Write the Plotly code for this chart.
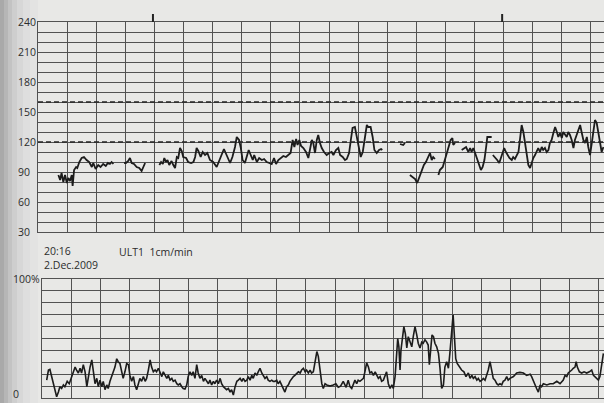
import plotly.graph_objects as go

# ---------------- data ----------------
# Fetal heart rate (bpm) vs time (minutes); None = signal loss
fhr_time = [
    0.70, 0.76, 0.81, 0.87, 0.93, 0.99, 1.04, 1.10, 1.16, 1.19, 1.24, 1.31, 1.35, 1.42, 1.50,
    1.58, 1.67, 1.76, 1.85, 1.90, 1.98, 2.07, 2.15, 2.24, 2.33, 2.40, 2.47, 2.53, 2.59, None,
    2.96, 3.02, 3.10, 3.16, 3.22, 3.30, 3.39, 3.48, 3.56, 3.62, 3.68, None,
    4.17, 4.23, 4.29, 4.34, 4.40, 4.45, 4.51, 4.59, 4.65, 4.71, 4.77, 4.82, 4.88, 4.94, 4.99,
    5.09, 5.16, 5.26, 5.34, 5.40, 5.45, 5.51, 5.59, 5.66, 5.74, 5.82,
    5.91, 6.02, 6.14, 6.23, 6.31, 6.39, 6.48, 6.60, 6.68, 6.77, 6.83, 6.91, 6.97, 7.03, 7.11,
    7.17, 7.24, 7.31, 7.38, 7.43, 7.52, 7.60, 7.69, 7.77, 7.86, 7.95, 8.03, 8.11, 8.18, 8.26,
    8.34, 8.43, 8.52, 8.60, 8.68, 8.75, 8.81, 8.87, 8.92, 8.98, 9.04, 9.12, 9.21, 9.29, 9.35,
    9.41, 9.46, 9.52, 9.58, 9.63, 9.69, 9.75, 9.83, 9.92, 10.01, 10.09, 10.15, 10.24, 10.32,
    10.38, 10.47, 10.55, 10.61, 10.69, 10.75, 10.81, 10.89, 10.95, 11.01, 11.09, 11.16, 11.24,
    11.30, 11.35, 11.43, 11.50, 11.56, 11.64, 11.72, 11.79, 11.83, None,
    12.44, 12.55, 12.61, None,
    12.78, 12.88, 12.96, 13.03, 13.10, 13.19, 13.26, 13.33, 13.41, 13.47, 13.53, 13.58, 13.64, None,
    13.76, 13.81, 13.91, 13.99, 14.07, 14.13, 14.18, 14.24, 14.27, 14.33, None,
    14.56, 14.64, 14.71, 14.79, 14.85, 14.90, 14.96, 15.02, 15.10, 15.16, 15.22, 15.28, 15.34,
    15.40, 15.44, 15.59, None,
    15.63, 15.70, 15.78, 15.85, 15.91, 15.97, 16.02, 16.08, 16.13, 16.20, 16.28, 16.33, 16.39,
    16.45, 16.51, 16.56, 16.62, 16.68, 16.74, 16.79, 16.85, 16.91, 16.97, 17.02, 17.08, 17.14,
    17.19, 17.25, 17.31, 17.36, 17.42, 17.48, 17.54, 17.59, 17.65, 17.71, 17.77, 17.83, 17.88,
    17.94, 18.00, 18.05, 18.11, 18.17, 18.22, 18.28, 18.34, 18.40, 18.45, 18.51, 18.57, 18.63,
    18.68, 18.74, 18.80, 18.86, 18.91, 18.97, 19.03, 19.08, 19.14, 19.20, 19.25, 19.31, 19.37, 19.43,
]
fhr_bpm = [
    87, 82, 89, 80, 87, 79, 84, 81, 87, 76, 92, 95, 94, 100, 104,
    105, 102, 100, 95, 99, 93, 97, 95, 98, 96, 99, 98, 100, 98, None,
    99, 99, 101, 104, 99, 98, 95, 94, 91, 95, 99, None,
    97, 100, 98, 104, 100, 102, 97, 101, 97, 94, 105, 104, 114, 111, 105,
    104, 100, 99, 100, 105, 114, 111, 105, 110, 107, 109,
    102, 100, 95, 102, 107, 113, 107, 99, 105, 115, 125, 122, 114, 102, 99,
    105, 112, 107, 102, 107, 100, 104, 102, 103, 100, 99, 98, 104, 98, 102,
    104, 106, 105, 107, 109, 122, 115, 123, 117, 122, 116, 114, 110, 104, 115,
    122, 119, 109, 122, 127, 119, 114, 110, 107, 109, 110, 107, 112, 114,
    107, 105, 102, 103, 109, 122, 134, 135, 125, 114, 105, 110, 127,
    137, 135, 135, 125, 112, 109, 112, 113, 112, None,
    118, 117, 119, None,
    87, 85, 83, 79, 85, 92, 97, 100, 105, 109, 102, 105, 103, None,
    87, 92, 95, 104, 112, 117, 122, 124, 117, 119, None,
    112, 114, 115, 110, 114, 110, 114, 109, 102, 96, 92, 95, 102,
    115, 125, 125, None,
    107, 105, 102, 99, 104, 109, 114, 110, 107, 104, 102, 105, 103,
    107, 110, 122, 137, 130, 117, 105, 97, 94, 100, 104, 107, 112,
    114, 110, 115, 112, 114, 110, 112, 119, 122, 129, 135, 130, 125,
    129, 124, 130, 127, 125, 130, 127, 122, 114, 122, 127, 132, 137,
    130, 122, 119, 125, 115, 107, 119, 132, 142, 139, 129, 119, 110, 115,
]

# Uterine activity (%) vs time (minutes)
ua_time = [
    0.16, 0.22, 0.27, 0.33, 0.41, 0.50, 0.56, 0.61, 0.67, 0.73, 0.78, 0.86, 0.93, 1.00, 1.07,
    1.13, 1.18, 1.24, 1.30, 1.35, 1.41, 1.47, 1.53, 1.58, 1.64, 1.70, 1.75, 1.81, 1.87, 1.92,
    1.98, 2.04, 2.09, 2.15, 2.21, 2.26, 2.32, 2.38, 2.43, 2.49, 2.55, 2.60, 2.66, 2.72, 2.77,
    2.83, 2.89, 2.95, 3.00, 3.06, 3.12, 3.17, 3.23, 3.29, 3.34, 3.40, 3.46, 3.52, 3.57, 3.63,
    3.69, 3.74, 3.80, 3.86, 3.91, 3.97, 4.03, 4.09, 4.14, 4.20, 4.26, 4.31, 4.37, 4.43, 4.48,
    4.54, 4.60, 4.65, 4.71, 4.77, 4.82, 4.88, 4.94, 4.99, 5.05, 5.11, 5.16, 5.22, 5.28, 5.33,
    5.39, 5.45, 5.51, 5.56, 5.62, 5.68, 5.73, 5.79, 5.85, 5.90, 5.96, 6.02, 6.08, 6.13, 6.19,
    6.25, 6.30, 6.36, 6.42, 6.47, 6.53, 6.59, 6.65, 6.70, 6.76, 6.82, 6.87, 6.93, 6.99, 7.04,
    7.10, 7.16, 7.21, 7.27, 7.33, 7.38, 7.44, 7.50, 7.55, 7.61, 7.67, 7.72, 7.78, 7.84, 7.89,
    7.95, 8.01, 8.06, 8.12, 8.18, 8.24, 8.29, 8.35, 8.41, 8.46, 8.52, 8.58, 8.63, 8.69, 8.75,
    8.81, 8.86, 8.92, 8.98, 9.03, 9.09, 9.15, 9.20, 9.26, 9.32, 9.38, 9.43, 9.49,
    9.55, 9.60, 9.66, 9.72, 9.83, 9.94, 10.03, 10.11, 10.19, 10.28, 10.38, 10.45, 10.51, 10.57,
    10.62, 10.68, 10.74, 10.79, 10.85, 10.91, 10.97, 11.02, 11.08, 11.14, 11.19, 11.25, 11.31,
    11.37, 11.42, 11.48, 11.54, 11.59, 11.65, 11.71, 11.76, 11.82, 11.88, 11.94, 11.99, 12.05,
    12.11, 12.14, 12.18, 12.22, 12.25, 12.31, 12.35, 12.40, 12.45, 12.50, 12.56, 12.62, 12.67,
    12.73, 12.79, 12.84, 12.90, 12.96, 13.01, 13.07, 13.13, 13.18, 13.22, 13.27, 13.31, 13.36,
    13.41, 13.47, 13.53, 13.58, 13.64, 13.70, 13.75, 13.81, 13.87, 13.92, 13.98, 14.03, 14.07,
    14.12, 14.17, 14.24, 14.32, 14.40, 14.47, 14.55, 14.61, 14.67, 14.72, 14.78, 14.84, 14.89,
    14.95, 15.01, 15.06, 15.12, 15.18, 15.23, 15.29, 15.35, 15.40, 15.46, 15.52, 15.57, 15.63,
    15.69, 15.74, 15.80, 15.86, 15.91, 15.97, 16.09, 16.14, 16.20, 16.31, 16.43, 16.54, 16.66,
    16.71, 16.77, 16.83, 16.88, 16.94, 17.00, 17.05, 17.11, 17.23, 17.34, 17.45, 17.57, 17.68,
    17.79, 17.85, 17.91, 17.96, 18.02, 18.08, 18.13, 18.19, 18.23, 18.27, 18.34, 18.42, 18.50,
    18.59, 18.68, 18.76, 18.82, 18.87, 18.93, 18.99, 19.04, 19.10, 19.16,
]
ua_pct = [
    15, 23.5, 24, 18, 12, 1, 5, 9.5, 8, 11, 9.5, 14, 12, 16.5, 21,
    26, 23.5, 21, 25, 21, 28, 22, 9.5, 19, 26, 32, 21, 12, 16.5, 9.5,
    15, 9.5, 14, 7, 11, 8, 14, 18, 21, 26, 33, 30.5, 29, 21, 16.5,
    22, 29, 28, 19, 14, 18, 11, 7, 12, 16.5, 14, 18, 14, 16.5, 23.5,
    32, 26, 22, 23.5, 22, 25, 21, 18, 22, 19, 16.5, 19, 15, 16.5, 14,
    15, 12, 11, 12, 9.5, 8, 7.5, 11, 18, 22, 19, 22, 16.5, 28, 21,
    16.5, 19, 14, 16.5, 14, 12, 15, 11, 14, 12, 15, 12, 16.5, 12, 9.5,
    8, 7, 8, 5, 7, 2.5, 9.5, 14, 15, 16.5, 14, 16.5, 14, 15, 18,
    15, 19, 16.5, 21, 19, 22, 25, 21, 19, 16.5, 18, 15, 14, 15, 14,
    14, 15, 12, 14, 11, 8, 5, 9.5, 11, 14, 16.5, 18, 19, 21, 22,
    21, 23.5, 25, 22, 23.5, 21, 23.5, 21, 22, 30.5, 39, 35, 23.5,
    12, 8, 12, 11, 10, 11, 12, 9, 10, 14, 9, 15, 9.5, 8,
    11, 15, 12, 15, 14, 15, 16.5, 22, 29.5, 26, 21, 22, 19,
    22, 19, 16.5, 18, 14, 15, 19, 22, 12, 8, 11, 8, 18,
    37.5, 50, 43, 23.5, 40, 54, 60, 54, 42, 51.5, 47, 43, 51.5,
    60, 53, 46, 42, 47, 46, 49, 47, 44.5, 28, 43, 53, 51.5,
    46, 43, 37.5, 26, 8, 11, 26, 30.5, 25, 37.5, 54, 70, 54,
    33, 29, 26, 23.5, 22, 18, 21, 16.5, 19, 16.5, 18, 15, 16.5,
    14, 15, 16.5, 15, 19, 23.5, 30.5, 23.5, 16.5, 15, 12, 11, 12,
    11, 14, 15, 18, 15, 16.5, 18, 19, 21, 21.5, 21, 19, 20,
    18, 14, 11, 8, 5, 11, 9.5, 12, 11, 12, 12, 14, 12,
    15, 19, 18, 21, 22, 23.5, 25, 26, 30.5, 26, 22, 21, 22,
    21, 22, 23.5, 19, 18, 16.5, 15, 18, 28, 37.5,
]

fhr_label_vals = [240, 210, 180, 150, 120, 90, 60, 30]
fhr_limits = [160, 120]
event_marks = [3.95, 15.95]
ua_label_vals = [100]
ua_label_text = ["100%"]

W, H = 604, 403
GRID = "#525252"
INK = "#1c1c1c"
TXT = "#2c2c2c"
FONT = "Open Sans"

fig = go.Figure()

fig.add_trace(go.Scatter(x=fhr_time, y=fhr_bpm, mode="lines", xaxis="x", yaxis="y",
                         line=dict(color=INK, width=1.8), connectgaps=False,
                         hoverinfo="skip", showlegend=False))
fig.add_trace(go.Scatter(x=ua_time, y=ua_pct, mode="lines", xaxis="x2", yaxis="y2",
                         line=dict(color=INK, width=1.6),
                         hoverinfo="skip", showlegend=False))

ax_x = dict(showticklabels=False, ticks="", zeroline=False, showgrid=True,
            gridcolor=GRID, gridwidth=1, showline=True, linecolor=GRID,
            linewidth=1, mirror=True, fixedrange=True)
ax_y = dict(showticklabels=False, ticks="", zeroline=False, showgrid=True,
            gridcolor=GRID, gridwidth=1, showline=True, linecolor=GRID,
            linewidth=1, mirror=False, fixedrange=True)

fig.update_layout(
    width=W, height=H,
    margin=dict(l=0, r=0, t=0, b=0),
    paper_bgcolor="#e8e8e6",
    plot_bgcolor="rgba(0,0,0,0)",
    xaxis=dict(domain=[38 / W, 1.0], range=[0, 19.45], dtick=1, tick0=0, anchor="y", **ax_x),
    yaxis=dict(domain=[(H - 232) / H, (H - 22) / H], range=[30, 240], dtick=10, tick0=0,
               anchor="x", **ax_y),
    xaxis2=dict(domain=[42 / W, 1.0], range=[0, 19.18], dtick=1, tick0=0, anchor="y2", **ax_x),
    yaxis2=dict(domain=[(H - 398) / H, (H - 279) / H], range=[0, 100], dtick=10, tick0=0,
                anchor="x2", **ax_y),
)

# scanned-paper shading on the left edge
shade = [("#a9a9a9", 0, 4), ("#b6b6b6", 4, 8), ("#c3c3c3", 8, 12), ("#cecece", 12, 17),
         ("#d7d7d7", 17, 23), ("#dedede", 23, 30), ("#e3e3e2", 30, 38)]
for col, a, b in shade:
    fig.add_shape(type="rect", xref="paper", yref="paper", x0=a / W, x1=b / W, y0=0, y1=1,
                  fillcolor=col, line=dict(width=0), layer="below")

# dashed normal-range lines
for v in fhr_limits:
    fig.add_shape(type="line", xref="x", yref="y", x0=0, x1=19.45, y0=v, y1=v,
                  line=dict(color="#262626", width=1.6, dash="5px,3px"))

# event marks above the top trace
for t in event_marks:
    fig.add_shape(type="line", xref="x", yref="paper", x0=t, x1=t,
                  y0=(H - 22) / H, y1=(H - 14) / H, line=dict(color="#222", width=2))

# y labels (left aligned as printed)
for v in fhr_label_vals:
    fig.add_annotation(xref="paper", yref="y", x=16 / W, y=v, text=str(v), showarrow=False,
                       xanchor="left", yanchor="middle", font=dict(family=FONT, size=10.5, color=TXT))
for v, t in zip(ua_label_vals, ua_label_text):
    fig.add_annotation(xref="paper", yref="y2", x=11 / W, y=v, text=t, showarrow=False,
                       xanchor="left", yanchor="middle", font=dict(family=FONT, size=10.5, color=TXT))
fig.add_annotation(xref="paper", yref="paper", x=11 / W, y=0, text="0", showarrow=False,
                   xanchor="left", yanchor="bottom", font=dict(family=FONT, size=10.5, color=TXT))

# header text between the panels
fig.add_annotation(xref="paper", yref="paper", x=42 / W, y=(H - 258) / H,
                   text="20:16<br>2.Dec.2009", align="left",
                   showarrow=False, xanchor="left", yanchor="middle",
                   font=dict(family=FONT, size=10.5, color=TXT))
fig.add_annotation(xref="paper", yref="paper", x=117 / W, y=(H - 252) / H, text="ULT1&nbsp;&nbsp;1cm/min",
                   showarrow=False, xanchor="left", yanchor="middle",
                   font=dict(family=FONT, size=10.5, color=TXT))

fig.write_html("out.html", config={"displayModeBar": False},
               post_script="document.body.style.margin='0';document.body.style.padding='0';"
                           "document.documentElement.style.overflow='hidden';")
